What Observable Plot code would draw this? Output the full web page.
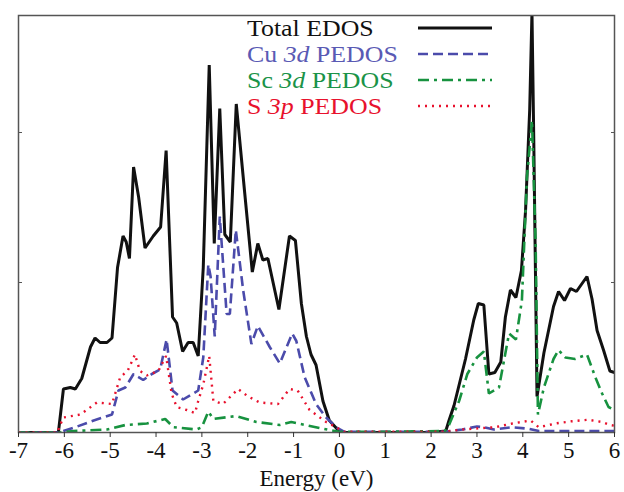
<!DOCTYPE html>
<html>
<head>
<meta charset="utf-8">
<script src="https://cdn.jsdelivr.net/npm/d3@7"></script>
<script src="https://cdn.jsdelivr.net/npm/@observablehq/plot@0.6"></script>
<style>
  html, body { margin: 0; padding: 0; background: #fff; }
  #wrap { position: relative; width: 624px; height: 492px; font-family: "Liberation Serif", "DejaVu Serif", serif; }
  #legend { position: absolute; left: 247px; top: 15px; }
  .row { position: relative; height: 26px; font-size: 23.5px; line-height: 26px; white-space: nowrap; }
  .row span { display: inline-block; transform: scaleX(1.1); transform-origin: 0 50%; }
  .row svg { position: absolute; left: 171px; top: 0; }
</style>
</head>
<body>
<div id="wrap"></div>
<script>
// Energy (eV) and density values
const totalE = [-7, -6.13, -6.02, -5.87, -5.76, -5.62, -5.43, -5.33, -5.22, -5.07, -4.96, -4.84, -4.72, -4.65, -4.58, -4.49, -4.38, -4.24, -4.06, -3.90, -3.78, -3.64, -3.55, -3.42, -3.30, -3.19, -3.08, -2.97, -2.84, -2.73, -2.61, -2.50, -2.38, -2.25, -2.07, -1.90, -1.78, -1.67, -1.56, -1.32, -1.09, -0.96, -0.83, -0.72, -0.62, -0.51, -0.36, -0.22, -0.04, 0.1, 1.0, 2.0, 2.32, 2.39, 2.50, 2.75, 2.93, 3.03, 3.15, 3.26, 3.39, 3.52, 3.62, 3.73, 3.85, 3.97, 4.06, 4.15, 4.20, 4.24, 4.31, 4.46, 4.67, 4.78, 4.91, 5.04, 5.17, 5.40, 5.51, 5.62, 5.76, 5.90, 6.0];
const totalV = [0, 0, 0.29, 0.30, 0.29, 0.36, 0.57, 0.63, 0.60, 0.60, 0.63, 1.10, 1.31, 1.27, 1.16, 1.77, 1.57, 1.23, 1.31, 1.37, 1.88, 0.77, 0.73, 0.54, 0.60, 0.60, 0.51, 1.10, 2.45, 1.26, 2.16, 1.32, 1.27, 2.19, 1.61, 1.07, 1.26, 1.15, 1.16, 0.82, 1.31, 1.28, 0.86, 0.64, 0.52, 0.45, 0.21, 0.08, 0.02, 0, 0, 0, 0.01, 0.08, 0.18, 0.49, 0.75, 0.86, 0.85, 0.39, 0.40, 0.47, 0.77, 0.95, 0.90, 1.08, 1.48, 2.15, 2.80, 1.93, 0.24, 0.53, 0.84, 0.94, 0.88, 0.96, 0.94, 1.04, 0.89, 0.68, 0.55, 0.41, 0.40];

const cuE = [-7, -6.13, -6.02, -5.72, -5.36, -4.96, -4.82, -4.67, -4.49, -4.28, -4.09, -3.91, -3.77, -3.64, -3.41, -3.08, -2.97, -2.86, -2.81, -2.72, -2.61, -2.46, -2.39, -2.26, -2.10, -1.92, -1.78, -1.52, -1.30, -1.03, -0.94, -0.76, -0.51, -0.29, -0.07, 0.1, 2.3, 2.68, 3.0, 3.15, 3.37, 3.77, 4.13, 4.35, 5.0, 6.0];
const cuV = [0, 0, 0.01, 0.04, 0.08, 0.12, 0.28, 0.30, 0.39, 0.35, 0.39, 0.42, 0.62, 0.28, 0.22, 0.28, 0.50, 1.12, 1.04, 0.64, 1.44, 0.79, 0.79, 1.35, 0.95, 0.59, 0.71, 0.57, 0.46, 0.66, 0.61, 0.37, 0.19, 0.10, 0.035, 0.005, 0.005, 0.02, 0.04, 0.035, 0.02, 0.035, 0.025, 0.01, 0.01, 0.01];

const scE = [-7, -6.1, -5.8, -5.07, -4.67, -4.20, -3.80, -3.62, -3.12, -3.0, -2.86, -2.75, -2.25, -1.81, -1.30, -1.05, -0.36, 0.0, 1.0, 2.3, 2.39, 2.61, 2.79, 3.0, 3.15, 3.26, 3.48, 3.70, 3.85, 3.98, 4.09, 4.20, 4.28, 4.33, 4.46, 4.67, 4.78, 4.93, 5.14, 5.40, 5.58, 5.73, 5.87, 6.0];
const scV = [0, 0, 0.01, 0.02, 0.05, 0.06, 0.09, 0.035, 0.02, 0.035, 0.14, 0.09, 0.11, 0.07, 0.05, 0.07, 0.025, 0.005, 0.005, 0.01, 0.05, 0.21, 0.39, 0.50, 0.54, 0.26, 0.30, 0.66, 0.62, 0.88, 1.70, 2.08, 1.26, 0.12, 0.30, 0.49, 0.55, 0.50, 0.49, 0.52, 0.37, 0.26, 0.17, 0.15];

const sE = [-7, -6.14, -6.12, -6.02, -5.65, -5.29, -4.96, -4.78, -4.62, -4.46, -4.35, -4.20, -3.95, -3.78, -3.66, -3.55, -3.33, -3.15, -3.08, -2.97, -2.84, -2.75, -2.54, -2.21, -1.99, -1.74, -1.34, -1.09, -0.91, -0.65, -0.29, -0.07, 0.1, 2.3, 2.68, 3.39, 3.77, 4.17, 4.35, 4.71, 5.07, 5.43, 5.73, 5.90, 6.0];
const sV = [0, 0, 0.03, 0.10, 0.12, 0.20, 0.19, 0.37, 0.41, 0.52, 0.41, 0.38, 0.41, 0.51, 0.26, 0.17, 0.15, 0.13, 0.21, 0.32, 0.51, 0.21, 0.19, 0.29, 0.24, 0.20, 0.19, 0.29, 0.28, 0.15, 0.07, 0.035, 0.005, 0.005, 0.02, 0.035, 0.06, 0.08, 0.035, 0.06, 0.075, 0.085, 0.07, 0.05, 0.045];

const xTicks = [-7, -6, -5, -4, -3, -2, -1, 0, 1, 2, 3, 4, 5, 6];
const yTicks = [1, 2];

const series = [
  {name: "Total", label: "Total EDOS", E: totalE, V: totalV, color: "#111111", dash: null, width: 3},
  {name: "Cu", label: "Cu <i>3d</i> PEDOS", E: cuE, V: cuV, color: "#4b4bab", dash: "10,5", width: 2.6, text: "#5a5ab4"},
  {name: "Sc", label: "Sc <i>3d</i> PEDOS", E: scE, V: scV, color: "#17923f", dash: "11,5,3,5", width: 2.6, text: "#1a9348"},
  {name: "S", label: "S <i>3p</i> PEDOS", E: sE, V: sV, color: "#e8112d", dash: "2,5", width: 2.4, text: "#e8112d"}
];

const toRows = s => s.E.map((e, i) => ({E: e, V: s.V[i]}));

const chart = Plot.plot({
  width: 624,
  height: 492,
  marginLeft: 18,
  marginRight: 10,
  marginTop: 15,
  marginBottom: 60,
  style: {fontFamily: "'Liberation Serif', 'DejaVu Serif', serif", fontSize: "23px", color: "#111", background: "#fff"},
  x: {domain: [-7, 6]},
  y: {domain: [0, 2.78]},
  marks: [
    ...series.map(s => Plot.line(toRows(s), {
      x: "E", y: "V", stroke: s.color, strokeWidth: s.width,
      strokeDasharray: s.dash, strokeLinejoin: "miter", strokeLinecap: "butt", clip: true
    })),
    Plot.frame({stroke: "#555", strokeWidth: 1.5}),
    Plot.axisX({ticks: xTicks, tickSize: 5, tickPadding: 4, tickFormat: d => String(d), stroke: "#333",
      label: "Energy (eV)", labelAnchor: "center", labelOffset: 53, labelArrow: "none", fontSize: 23}),
    Plot.axisY({anchor: "left", ticks: yTicks, tickSize: -4, tickFormat: () => "", label: null, stroke: "#555"}),
    Plot.axisY({anchor: "right", ticks: yTicks, tickSize: -4, tickFormat: () => "", label: null, stroke: "#555"})
  ]
});

const wrap = document.getElementById("wrap");
wrap.appendChild(chart);

// legend
const legend = document.createElement("div");
legend.id = "legend";
for (const s of series) {
  const row = document.createElement("div");
  row.className = "row";
  row.innerHTML = `<span style="color:${s.text || s.color}">${s.label}</span>` +
    `<svg width="76" height="26"><line x1="0" x2="74" y1="13" y2="13" stroke="${s.color}" stroke-width="${s.width}" ${s.dash ? `stroke-dasharray="${s.dash}"` : ""}/></svg>`;
  legend.appendChild(row);
}
wrap.appendChild(legend);
</script>
</body>
</html>
